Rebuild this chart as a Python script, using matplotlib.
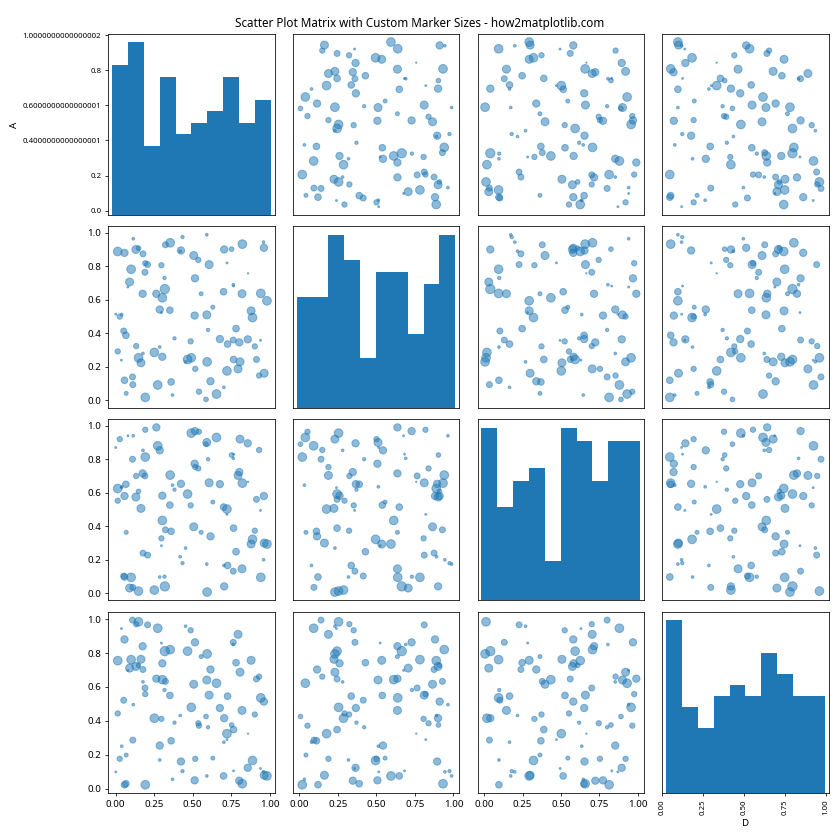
import matplotlib
matplotlib.use('Agg')
import matplotlib.pyplot as plt
import numpy as np
import pandas as pd

plt.rcParams['font.family'] = ['Noto Sans', 'DejaVu Sans']

# values, one entry per point
A = [0.000, 0.013, 0.013, 0.026, 0.037, 0.039, 0.052, 0.057, 0.057, 0.066,
     0.068, 0.079, 0.090, 0.100, 0.109, 0.111, 0.114, 0.131, 0.133, 0.148,
     0.148, 0.164, 0.175, 0.177, 0.177, 0.190, 0.192, 0.192, 0.207, 0.251,
     0.264, 0.273, 0.286, 0.286, 0.297, 0.297, 0.303, 0.303, 0.317, 0.319,
     0.323, 0.352, 0.354, 0.360, 0.369, 0.382, 0.424, 0.434, 0.454, 0.467,
     0.487, 0.491, 0.507, 0.513, 0.515, 0.517, 0.537, 0.541, 0.555, 0.587,
     0.592, 0.592, 0.594, 0.600, 0.607, 0.616, 0.631, 0.655, 0.677, 0.701,
     0.703, 0.705, 0.723, 0.723, 0.727, 0.753, 0.764, 0.766, 0.764, 0.766,
     0.782, 0.795, 0.803, 0.808, 0.821, 0.823, 0.858, 0.860, 0.880, 0.889,
     0.904, 0.915, 0.932, 0.941, 0.943, 0.961, 0.963, 0.965, 0.983, 0.419]
B = [0.514, 0.888, 0.292, 0.500, 0.240, 0.512, 0.414, 0.880, 0.120, 0.388,
     0.042, 0.676, 0.706, 0.782, 0.140, 0.094, 0.964, 0.900, 0.324, 0.908,
     0.254, 0.224, 0.636, 0.874, 0.280, 0.764, 0.818, 0.018, 0.810, 0.286,
     0.636, 0.092, 0.542, 0.318, 0.806, 0.524, 0.612, 0.260, 0.730, 0.664,
     0.928, 0.538, 0.940, 0.110, 0.032, 0.370, 0.894, 0.974, 0.230, 0.244,
     0.352, 0.254, 0.864, 0.506, 0.728, 0.188, 0.838, 0.052, 0.636, 0.006,
     0.988, 0.510, 0.230, 0.420, 0.810, 0.114, 0.556, 0.038, 0.366, 0.648,
     0.078, 0.900, 0.820, 0.176, 0.336, 0.902, 0.690, 0.682, 0.360, 0.244,
     0.428, 0.188, 0.346, 0.230, 0.636, 0.932, 0.364, 0.758, 0.534, 0.494,
     0.322, 0.244, 0.148, 0.358, 0.638, 0.944, 0.910, 0.162, 0.594, 0.890]
C = [0.870, 0.625, 0.552, 0.920, 0.630, 0.635, 0.102, 0.580, 0.096, 0.650,
     0.363, 0.940, 0.030, 0.094, 0.800, 0.034, 0.940, 0.574, 0.700, 0.608,
     0.012, 0.506, 0.715, 0.239, 0.853, 0.700, 0.976, 0.813, 0.227, 0.018,
     0.990, 0.880, 0.853, 0.096, 0.327, 0.283, 0.434, 0.582, 0.098, 0.040,
     0.378, 0.526, 0.705, 0.369, 0.645, 0.618, 0.653, 0.179, 0.269, 0.592,
     0.524, 0.956, 0.396, 0.773, 0.968, 0.753, 0.745, 0.964, 0.363, 0.890,
     0.173, 0.900, 0.006, 0.800, 0.659, 0.339, 0.544, 0.930, 0.651, 0.514,
     0.165, 0.040, 0.470, 0.502, 0.165, 0.825, 0.805, 0.830, 0.131, 0.388,
     0.247, 0.703, 0.723, 0.920, 0.145, 0.657, 0.895, 0.665, 0.293, 0.321,
     0.373, 0.560, 0.855, 0.494, 0.094, 0.199, 0.580, 0.299, 0.293, 0.217]
D = [0.100, 0.755, 0.444, 0.177, 0.944, 0.251, 0.522, 0.880, 0.024, 0.030,
     0.199, 0.698, 0.711, 0.761, 0.994, 0.287, 0.496, 0.721, 0.970, 0.727,
     0.984, 0.763, 0.840, 0.703, 0.630, 0.594, 0.558, 0.024, 0.966, 0.416,
     0.649, 0.946, 0.255, 0.170, 0.412, 0.859, 0.643, 0.739, 0.582, 0.811,
     0.633, 0.550, 0.820, 0.283, 0.056, 0.390, 0.161, 0.104, 0.958, 0.811,
     0.934, 0.480, 0.616, 0.050, 0.863, 0.177, 0.386, 0.372, 0.779, 0.426,
     0.076, 0.641, 0.795, 0.363, 0.552, 0.703, 0.181, 0.622, 0.476, 0.076,
     0.275, 0.416, 0.290, 0.325, 0.546, 0.376, 0.850, 0.106, 0.863, 0.349,
     0.743, 0.910, 0.048, 0.687, 0.462, 0.030, 0.124, 0.325, 0.757, 0.167,
     0.438, 0.647, 0.661, 0.120, 0.536, 0.100, 0.514, 0.080, 0.076, 0.432]
# marker sizes (points^2)
sizes = [4, 80, 30, 30, 4, 8, 38, 57, 47, 47,
         17, 4, 68, 80, 38, 38, 8, 68, 30, 23,
         80, 68, 57, 38, 8, 38, 30, 80, 38, 80,
         57, 80, 57, 8, 30, 4, 80, 57, 12, 92,
         38, 47, 80, 47, 8, 12, 57, 12, 8, 80,
         30, 80, 68, 57, 57, 30, 30, 30, 17, 23,
         8, 68, 80, 12, 68, 57, 17, 80, 57, 47,
         8, 57, 4, 80, 47, 23, 8, 4, 38, 47,
         47, 68, 57, 68, 68, 80, 57, 2, 68, 80,
         30, 38, 30, 4, 80, 8, 57, 68, 80, 8]

df = pd.DataFrame({'A': A, 'B': B, 'C': C, 'D': D})
sizes = np.array(sizes)

axes = pd.plotting.scatter_matrix(df, figsize=(12, 12), diagonal='hist')

# redraw the off-diagonal panels with custom marker sizes
cols = df.columns
for i in range(len(cols)):
    for j in range(len(cols)):
        if i != j:
            ax = axes[i, j]
            ax.clear()
            ax.scatter(df[cols[j]], df[cols[i]], s=sizes, alpha=0.5)

plt.suptitle('Scatter Plot Matrix with Custom Marker Sizes - how2matplotlib.com')
plt.tight_layout()
plt.savefig('out.png', dpi=70)
